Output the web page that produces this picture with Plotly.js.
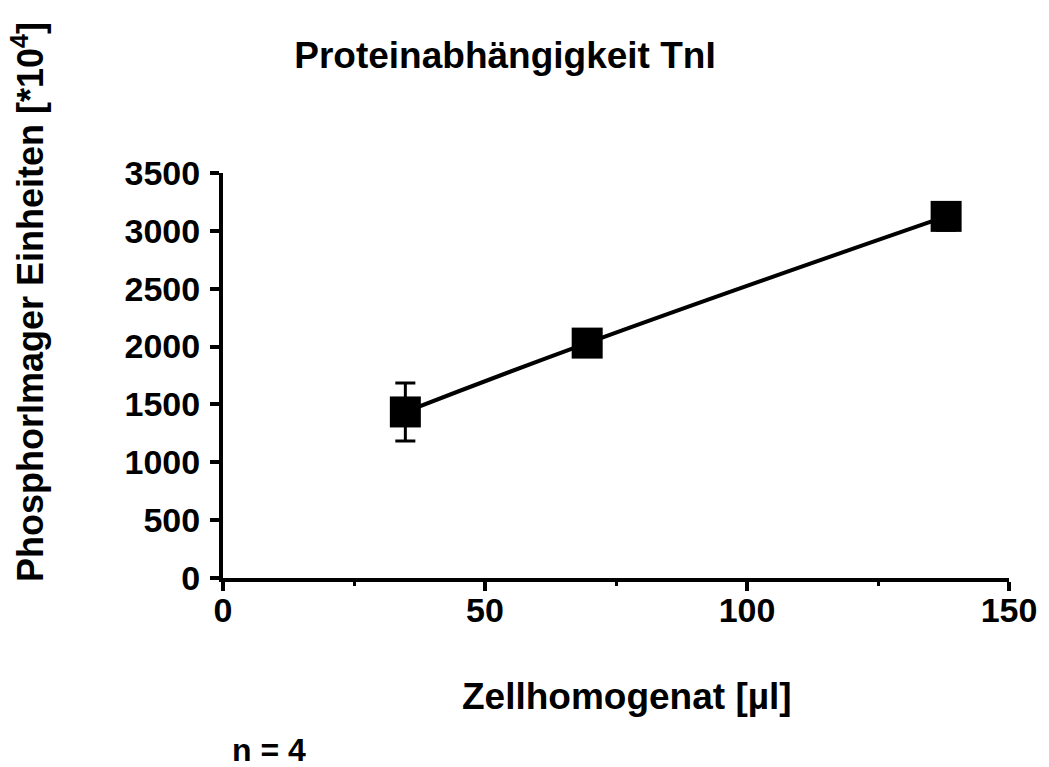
<!DOCTYPE html>
<html>
<head>
<meta charset="utf-8">
<script src="https://cdn.plot.ly/plotly-3.0.1.min.js"></script>
<style>
  html, body { margin: 0; padding: 0; background: #ffffff; }
  #chart { width: 1049px; height: 767px; }
</style>
</head>
<body>
<div id="chart"></div>
<script>
// Zellhomogenat volume [µl] and PhosphorImager signal (mean ± SD, n = 4)
const volumeUl = [34.8, 69.5, 138];
const signal = [1435, 2030, 3125];
const signalSd = [250, 110, 120];

const xTicks = [0, 50, 100, 150];
const yTicks = [0, 500, 1000, 1500, 2000, 2500, 3000, 3500];

const FONT = 'Liberation Sans, Arial, sans-serif';

const trace = {
  x: volumeUl,
  y: signal,
  type: 'scatter',
  mode: 'lines+markers',
  line: { color: '#000000', width: 4, shape: 'spline', smoothing: 1.3 },
  marker: { symbol: 'square', size: 31, color: '#000000' },
  error_y: {
    type: 'data',
    array: signalSd,
    visible: true,
    color: '#000000',
    thickness: 3,
    width: 10
  },
  hoverinfo: 'skip'
};

const axisCommon = {
  showgrid: false,
  zeroline: false,
  showline: true,
  linecolor: '#000000',
  linewidth: 4,
  ticks: 'outside',
  ticklen: 9,
  tickwidth: 4,
  tickcolor: '#000000',
  tickfont: { family: FONT, size: 34, color: '#000000', weight: 'bold' },
  fixedrange: true
};

const layout = {
  width: 1049,
  height: 767,
  paper_bgcolor: '#ffffff',
  plot_bgcolor: '#ffffff',
  showlegend: false,
  margin: { l: 223, r: 40, t: 173, b: 189, pad: 0 },
  title: {
    text: '<b>Proteinabhängigkeit TnI</b>',
    font: { family: FONT, size: 37, color: '#000000' },
    x: 0.4814, xanchor: 'center', xref: 'container',
    y: 0.928, yanchor: 'middle', yref: 'container'
  },
  xaxis: Object.assign({}, axisCommon, {
    range: [0, 150],
    tickmode: 'array',
    tickvals: xTicks,
    ticktext: xTicks.map(String),
    ticklabelstandoff: -10,
    minor: { tickmode: 'array', tickvals: [25, 75, 125], ticks: 'outside', ticklen: 4, tickwidth: 3, tickcolor: '#000000', showgrid: false }
  }),
  yaxis: Object.assign({}, axisCommon, {
    range: [0, 3500],
    tickmode: 'array',
    tickvals: yTicks,
    ticktext: yTicks.map(String),
    ticklabelstandoff: 3
  }),
  annotations: [
    {
      text: '<b>PhosphorImager Einheiten [*10<sup>4</sup>]</b>',
      xref: 'paper', yref: 'paper',
      x: -0.248, y: 0.6815,
      xanchor: 'center', yanchor: 'middle',
      textangle: -90,
      showarrow: false,
      font: { family: FONT, size: 36, color: '#000000' }
    },
    {
      text: '<b>Zellhomogenat [µl]</b>',
      xref: 'paper', yref: 'paper',
      x: 0.514, y: -0.2938,
      xanchor: 'center', yanchor: 'middle',
      showarrow: false,
      font: { family: FONT, size: 37, color: '#000000' }
    },
    {
      text: '<b>n = 4</b>',
      xref: 'paper', yref: 'paper',
      x: 0.0585, y: -0.4247,
      xanchor: 'center', yanchor: 'middle',
      showarrow: false,
      font: { family: FONT, size: 32, color: '#000000' }
    }
  ]
};

Plotly.newPlot('chart', [trace], layout, { staticPlot: true, displayModeBar: false });
</script>
</body>
</html>
